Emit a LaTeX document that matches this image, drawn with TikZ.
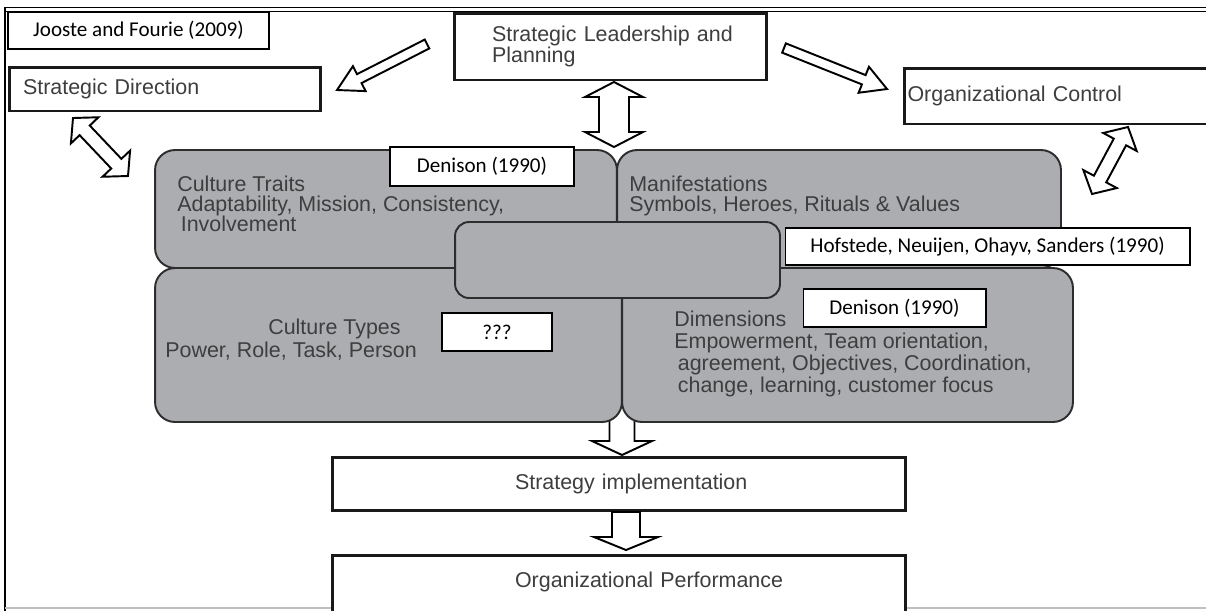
\documentclass[tikz,border=0pt]{standalone}
\usepackage{fontspec}
\setmainfont{Liberation Sans}
\newfontfamily\calfont{Carlito}
\usepackage{xcolor}
\usetikzlibrary{calc,positioning}

\definecolor{boxline}{RGB}{25,25,25}
\definecolor{txtgray}{RGB}{62,62,62}
\definecolor{cgray}{RGB}{172,173,177}
\definecolor{blockline}{RGB}{45,45,45}

\setlength{\lineskiplimit}{-20pt}

% hollow block arrows: #1 tail/tip, #2 tip, #3 half shaft, #4 half head, #5 head length
\newcommand\hollowsingle[5]{%
  \coordinate (hb) at ($(#2)!#5!(#1)$);
  \draw[hollow] ($(#1)!#3!90:(#2)$) -- ($(hb)!#3!90:(#2)$) -- ($(hb)!#4!90:(#2)$) -- (#2)
    -- ($(hb)!#4!-90:(#2)$) -- ($(hb)!#3!-90:(#2)$) -- ($(#1)!#3!-90:(#2)$) -- cycle;
}
\newcommand\hollowdouble[5]{%
  \coordinate (hba) at ($(#1)!#5!(#2)$);
  \coordinate (hbb) at ($(#2)!#5!(#1)$);
  \draw[hollow] (#1) -- ($(hba)!#4!90:(#2)$) -- ($(hba)!#3!90:(#2)$) -- ($(hbb)!#3!90:(#2)$)
    -- ($(hbb)!#4!90:(#2)$) -- (#2) -- ($(hbb)!#4!-90:(#2)$) -- ($(hbb)!#3!-90:(#2)$)
    -- ($(hba)!#3!-90:(#2)$) -- ($(hba)!#4!-90:(#2)$) -- cycle;
}

\begin{document}
\begin{tikzpicture}[x=0.02cm, y=-0.02cm,
  bigbox/.style={draw=boxline, line width=1.7pt, fill=white, inner sep=0pt, align=left, text=txtgray, font=\fontsize{12.2}{12}\selectfont},
  refbox/.style={draw=black, line width=0.6pt, fill=white, inner sep=0pt, font=\calfont\fontsize{12}{14}\selectfont},
  culture/.style={draw=blockline, line width=1.1pt, fill=cgray, rounded corners=0.4cm, inner sep=0pt},
  blocktext/.style={inner sep=0pt, anchor=north west, align=left, text=txtgray},
  hollow/.style={draw=black, fill=white, line width=1.1pt, line join=miter}]

  \useasboundingbox (0,0) rectangle (1206,610);
  \clip (0,0) rectangle (1206,610);

  % frame
  \draw[line width=0.9pt] (5,612) -- (5,7.5) -- (1210,7.5);
  \draw[line width=0.5pt] (5,11) -- (1210,11);
  \draw[black!25, line width=0.6pt] (5,608) -- (1210,608);

  % arrows behind the culture block
  \coordinate (lead-in) at (614,82);
  \coordinate (block-top) at (614,147);
  \coordinate (block-bottom) at (622,404);
  \coordinate (impl-in) at (622,455);
  \hollowdouble{lead-in}{block-top}{0.3cm}{0.58cm}{0.3cm}
  \hollowdouble{block-bottom}{impl-in}{0.25cm}{0.6cm}{0.28cm}

  % culture block
  \node[culture, minimum width=9.24cm, minimum height=2.36cm] (traits) at (386,209) {};
  \node[culture, minimum width=8.88cm, minimum height=2.36cm] (manif) at (839,209) {};
  \node[culture, minimum width=9.34cm, minimum height=3.08cm] (types) at (388.5,345) {};
  \node[culture, minimum width=9.02cm, minimum height=3.08cm] (dims) at (847.5,345) {};
  \node[culture, rounded corners=0.28cm, minimum width=6.5cm, minimum height=1.52cm] (hub) at (617.5,260) {};

  \node[blocktext, font=\fontsize{12.2}{11.4}\selectfont] (traits-text) at (177,176)
    {Culture Traits\\Adaptability, Mission, Consistency,\\\hspace*{2pt}Involvement};
  \node[blocktext, font=\fontsize{12.2}{11.4}\selectfont] (manif-text) at (629,176)
    {Manifestations\\Symbols, Heroes, Rituals \& Values};
  \node[blocktext, font=\fontsize{12.2}{12.8}\selectfont] (types-text) at (165,319)
    {\hspace*{2.06cm}Culture Types\\Power, Role, Task, Person};
  \node[blocktext, font=\fontsize{12.2}{12.4}\selectfont] (dims-text) at (674,311)
    {Dimensions\\Empowerment, Team orientation,\\\hspace*{2pt}agreement, Objectives, Coordination,\\\hspace*{2pt}change, learning, customer focus};

  % references
  \node[refbox, minimum width=5.22cm, minimum height=0.74cm] (jooste) at (138.5,30.5) {Jooste and Fourie (2009)};
  \node[refbox, minimum width=3.68cm, minimum height=0.78cm] (denison-a) at (482,166.5) {Denison (1990)};
  \node[refbox, minimum width=8.1cm, minimum height=0.74cm] (hofstede) at (987.5,246.5) {Hofstede, Neuijen, Ohayv, Sanders (1990)};
  \node[refbox, minimum width=3.66cm, minimum height=0.76cm] (denison-b) at (894.5,308) {Denison (1990)};
  \node[refbox, minimum width=2.2cm, minimum height=0.76cm] (unknown) at (497,332) {???};

  % main boxes
  \node[bigbox, minimum width=6.24cm, minimum height=0.88cm, text width=6.24cm] (sdir) at (165,89)
    {\hspace*{0.28cm}Strategic Direction};
  \node[bigbox, minimum width=6.26cm, minimum height=1.34cm, text width=6.26cm] (slp) at (610.5,46.5)
    {\hspace*{0.76cm}Strategic Leadership and\\\hspace*{0.76cm}Planning};
  \node[bigbox, minimum width=6.32cm, minimum height=1.12cm, text width=6.32cm] (octl) at (1062,96)
    {\hspace*{0.07cm}Organizational Control};
  \node[bigbox, minimum width=11.48cm, minimum height=1.06cm, text width=11.48cm] (simp) at (619,483.5)
    {\hspace*{3.66cm}Strategy implementation};
  \node[bigbox, text width=11.48cm, text height=0.64cm, text depth=1.3cm, below=0.86cm of simp] (operf)
    {\hspace*{3.66cm}Organizational Performance};

  % arrows
  \coordinate (lead-left) at (427,44);
  \coordinate (dir-in) at (337,90);
  \hollowsingle{lead-left}{dir-in}{0.1cm}{0.28cm}{0.5cm}
  \coordinate (lead-right) at (784,48);
  \coordinate (ctl-in) at (887,89);
  \hollowsingle{lead-right}{ctl-in}{0.1cm}{0.28cm}{0.5cm}
  \coordinate (dir-out) at (73,118);
  \coordinate (traits-in) at (128,176);
  \hollowdouble{dir-out}{traits-in}{0.14cm}{0.38cm}{0.34cm}
  \coordinate (ctl-out) at (1128,127);
  \coordinate (manif-in) at (1092,194);
  \hollowdouble{ctl-out}{manif-in}{0.14cm}{0.38cm}{0.34cm}
  \coordinate (impl-out) at (626,512);
  \coordinate (perf-in) at (626,550);
  \hollowsingle{impl-out}{perf-in}{0.28cm}{0.64cm}{0.26cm}
\end{tikzpicture}
\end{document}
